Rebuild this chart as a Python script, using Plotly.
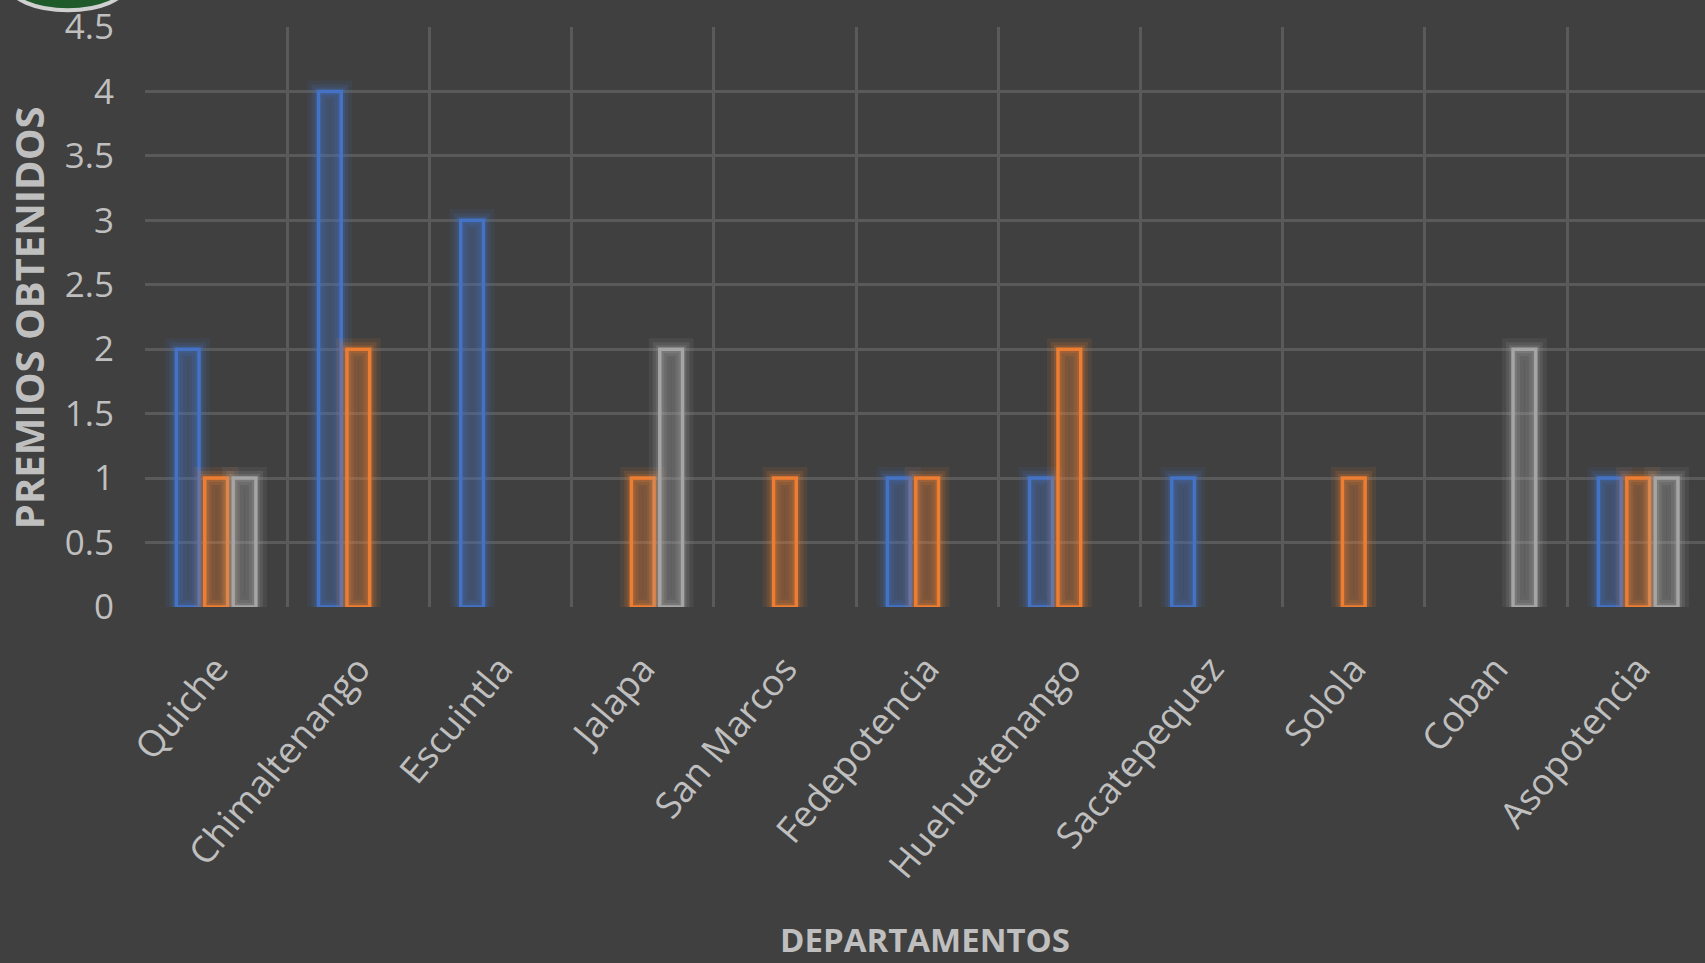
import plotly.graph_objects as go

departamentos = ["Quiche", "Chimaltenango", "Escuintla", "Jalapa", "San Marcos",
                 "Fedepotencia", "Huehuetenango", "Sacatepequez", "Solola", "Coban",
                 "Asopotencia"]
serie1 = [2, 4, 3, 0, 0, 1, 1, 1, 0, 0, 1]
serie2 = [1, 2, 0, 1, 1, 1, 2, 0, 1, 0, 1]
serie3 = [1, 0, 0, 2, 0, 0, 0, 0, 0, 2, 1]
y_ticks = [0, 0.5, 1, 1.5, 2, 2.5, 3, 3.5, 4, 4.5]

colors = [(68, 114, 196), (237, 125, 49), (165, 165, 165)]
series = [serie1, serie2, serie3]
names = ["Serie 1", "Serie 2", "Serie 3"]

fig = go.Figure()
for i, (vals, c, n) in enumerate(zip(series, colors, names)):
    yv = [v if v else None for v in vals]
    r, g, b = c
    # glow layers
    for w, a in [(22, 0.10), (14, 0.15), (8, 0.2)]:
        fig.add_trace(go.Bar(
            x=departamentos, y=yv, offsetgroup=str(i), name=n, showlegend=False,
            marker=dict(color="rgba(0,0,0,0)",
                        line=dict(color=f"rgba({r},{g},{b},{a})", width=w)),
            hoverinfo="skip"))
    fig.add_trace(go.Bar(
        x=departamentos, y=yv, offsetgroup=str(i), name=n, showlegend=False,
        marker=dict(color=f"rgba({r},{g},{b},0.28)",
                    line=dict(color=f"rgb({r},{g},{b})", width=3.5))))

fig.update_layout(
    width=1705, height=963,
    paper_bgcolor="#404040", plot_bgcolor="#404040",
    barmode="group", bargap=0.4, bargroupgap=0.2,
    margin=dict(l=145, r=0, t=27, b=356),
    font=dict(family="Open Sans", color="#BFBFBF"),
    showlegend=False,
    xaxis=dict(
        range=[-0.5, 10.47], tickson="boundaries", showgrid=True,
        gridcolor="#5A5A5A", gridwidth=2.5, tickangle=-50,
        tickfont=dict(size=36.5, color="#BFBFBF"), ticks="", zeroline=False,
        ticklabelstandoff=32,
    ),
    yaxis=dict(
        range=[0, 4.5], tickvals=y_ticks, ticktext=[f"{v:g}" for v in y_ticks],
        showgrid=True, gridcolor="#5A5A5A", gridwidth=2.5, zeroline=False,
        tickfont=dict(size=35, color="#BFBFBF"), ticks="",
        ticklabelstandoff=30,
    ),
    annotations=[
        dict(text="<b>DEPARTAMENTOS</b>", xref="paper", yref="paper",
             x=0.5, y=-0.574, xanchor="center", yanchor="middle", showarrow=False,
             font=dict(size=33, color="#BFBFBF")),
        dict(text="<b>PREMIOS OBTENIDOS</b>", xref="paper", yref="paper",
             x=-0.075, y=0.498, xanchor="center", yanchor="middle", showarrow=False,
             textangle=-90, font=dict(size=40, color="#BFBFBF")),
    ],
)
# partial logo at top-left corner
fig.add_shape(type="circle", xref="paper", yref="paper",
              x0=-0.087, x1=-0.012, y0=1.029, y1=1.116,
              fillcolor="#1E5A2A", line=dict(color="#D0D0D0", width=4), layer="above")

fig.write_html("out.html",
               config={"displayModeBar": False},
               post_script="document.body.style.margin='0';"
                           "document.body.style.background='#404040';"
                           "document.body.style.overflow='hidden';")
